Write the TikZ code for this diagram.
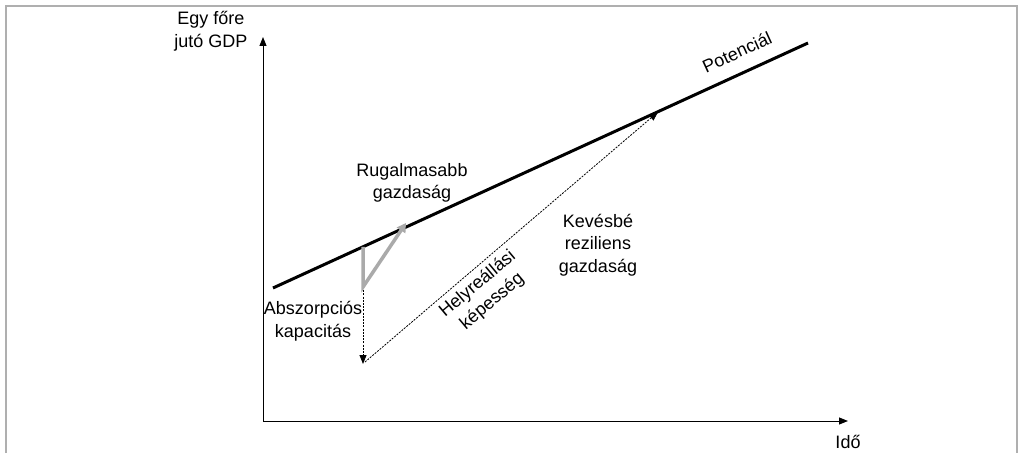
\documentclass[tikz,border=0pt]{standalone}
\usepackage{fontspec}
\setmainfont{Liberation Sans}
\usepackage{tikz}
\usetikzlibrary{positioning, arrows.meta}
\definecolor{framegray}{RGB}{175, 175, 175}
\definecolor{shiftgray}{RGB}{170, 170, 170}
\tikzset{
    axisline/.style={line width=1pt, -{Triangle[length=9pt, width=7pt]}},
    potline/.style={line width=3pt},
    shiftline/.style={line width=3.5pt, draw=shiftgray, line join=miter,
        -{Triangle[length=9pt, width=10pt]}},
    dotline/.style={line width=0.8pt, dash pattern=on 2pt off 1.2pt,
        -{Triangle[length=9pt, width=7pt]}},
    lbl/.style={align=center, font=\fontsize{18}{22.5}\selectfont, inner sep=0pt}
}
\begin{document}
\begin{tikzpicture}[x=1pt, y=1pt]
    \useasboundingbox (0,0) rectangle (1026,453);
    % keret
    \draw[framegray, line width=1.5pt] (6,0) -- (6,447) -- (1017,447) -- (1017,0);

    % tengelyek
    \coordinate (O) at (263,32);
    \coordinate (ytip) at (263,416);
    \coordinate (xtip) at (848,32);
    \draw[axisline] (O) -- (ytip);
    \draw[axisline] (O) -- (xtip);
    \node[lbl] (ylab) at (211,422) {Egy főre\\jutó GDP};
    \node[lbl] (xlab) at (848,11) {Idő};

    % potenciál
    \coordinate (p0) at (273,165);
    \coordinate (p1) at (808,410);
    \draw[potline] (p0) -- (p1);
    \node[lbl, rotate=24.6] (potlab) at (737,401) {Potenciál};

    % sokk es visszaallas
    \coordinate (shock) at (363,206);
    \coordinate (rbot) at (363,166);
    \coordinate (rtip) at (406,230);
    \coordinate (dbot) at (363,89);
    \coordinate (dstart) at (365,91);
    \coordinate (dtip) at (658,341);
    \draw[dotline] (rbot) -- (dbot);
    \draw[dotline] (dstart) -- (dtip);
    \draw[shiftline] (shock) -- (rbot) -- (rtip);

    \node[lbl] (abs) at (313,132) {Abszorpciós\\kapacitás};
    \node[lbl] (rug) at (412,270) {Rugalmasabb\\gazdaság};
    \node[lbl] (kev) at (598,208) {Kevésbé\\reziliens\\gazdaság};
    \node[lbl, rotate=40] (hely) at (485,160) {Helyreállási\\képesség};
\end{tikzpicture}
\end{document}
